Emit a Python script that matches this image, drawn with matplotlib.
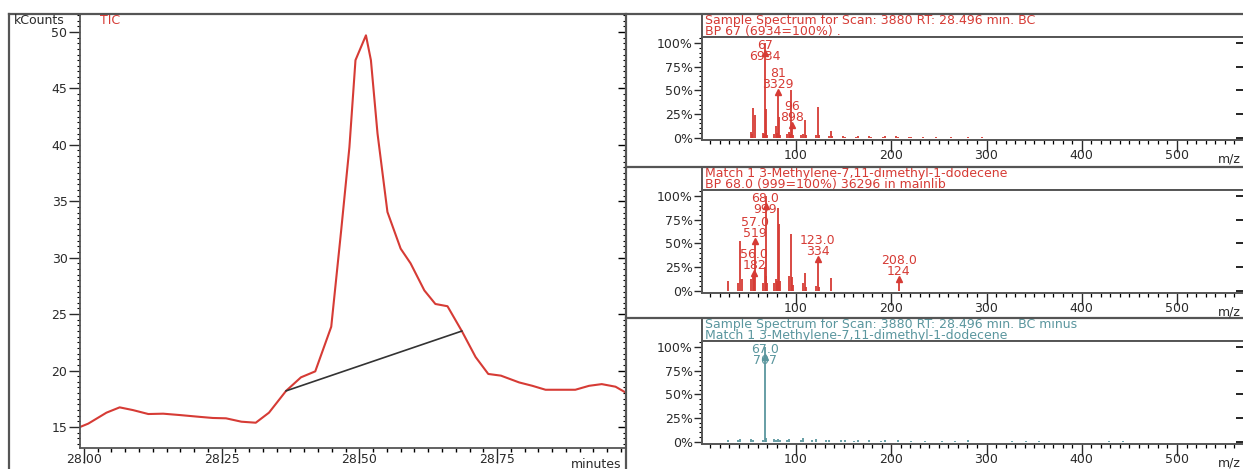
import matplotlib.pyplot as plt
from matplotlib.ticker import MultipleLocator, FixedLocator
from matplotlib.lines import Line2D

plt.rcParams['font.family'] = ['DejaVu Sans']

# TIC chromatogram (minutes, kCounts)
tic_time = [27.993, 28.008, 28.041, 28.065, 28.089, 28.117, 28.144, 28.174, 28.21, 28.234,
            28.258, 28.286, 28.312, 28.336, 28.367, 28.394, 28.42, 28.449, 28.467, 28.482,
            28.493, 28.512, 28.521, 28.533, 28.551, 28.575, 28.593, 28.618, 28.638,
            28.66, 28.686, 28.711, 28.734, 28.757, 28.79, 28.814, 28.838, 28.892, 28.917,
            28.94, 28.965, 28.986]
tic_kcounts = [15.0, 15.3, 16.27, 16.74, 16.5, 16.15, 16.18, 16.06, 15.9, 15.8,
               15.77, 15.47, 15.38, 16.27, 18.2, 19.4, 19.93, 23.88, 32.4, 39.8,
               47.5, 49.7, 47.5, 41.0, 34.05, 30.8, 29.5, 27.1, 25.9,
               25.7, 23.5, 21.2, 19.7, 19.55, 18.95, 18.65, 18.3, 18.3, 18.65,
               18.8, 18.57, 17.98]
base_time = [28.367, 28.686]
base_kcounts = [18.2, 23.5]

# sample spectrum
s1_mz = [53, 54, 55, 57, 65, 66, 67, 68, 69, 70, 77, 79, 80, 81, 82, 83, 91, 93, 94, 95,
         96, 97, 105, 107, 109, 110, 121, 123, 124, 135, 137, 138, 149, 151, 163, 165, 177, 179,
         191, 193, 205, 207, 219, 221, 233, 247, 263, 281, 295]
s1_pct = [6, 4, 31, 24, 5, 4, 100, 30, 8, 3, 4, 12, 5, 48, 22, 3, 4, 6, 4, 50,
          13, 3, 3, 4, 19, 3, 3, 32, 3, 2, 7, 2, 1.5, 1, 1, 1.5, 1.5, 1,
          1, 1.5, 1.5, 1, 1, 1.2, 1, 0.8, 1, 0.8, 0.7]
s1_lab_mz = [67, 81, 96]
s1_lab_name = ['67', '81', '96']
s1_lab_count = ['6934', '3329', '898']

# library match
s2_mz = [29, 39, 41, 43, 53, 55, 56, 57, 65, 67, 68, 69, 70, 77, 79, 80, 81, 82, 83, 93,
         95, 96, 97, 107, 109, 110, 121, 123, 124, 137, 208]
s2_pct = [10, 8, 53, 12, 12, 14, 18.2, 52, 8, 25, 100, 15, 8, 8, 12, 10, 87, 70, 10, 15,
          60, 14, 6, 8, 19, 4, 5, 33.4, 4, 13, 12.4]
s2_lab_mz = [56, 57, 68, 123, 208]
s2_lab_name = ['56.0', '57.0', '68.0', '123.0', '208.0']
s2_lab_count = ['182', '519', '999', '334', '124']

# residual (sample minus match)
s3_mz = [29, 39, 41, 53, 55, 65, 67, 69, 77, 79, 81, 83, 91, 93, 105, 107, 117, 121, 131, 135,
         147, 151, 161, 165, 177, 189, 193, 207, 221, 235, 253, 267, 281, 327, 341, 355, 429, 443]
s3_pct = [2, 2, 3, 3, 2, 2, 100, 4, 3, 2, 3, 2, 2, 3, 2, 4, 2, 3, 1.5, 2,
          1.5, 2, 1, 1.5, 1.5, 1, 2, 1.5, 1, 1, 1, 1, 1.5, 0.8, 0.8, 1, 0.7, 0.5]
s3_lab_mz = [67]
s3_lab_name = ['67.0']
s3_lab_count = ['707']

titles = [
    ['Sample Spectrum for Scan: 3880 RT: 28.496 min. BC', 'BP 67 (6934=100%) .'],
    ['Match 1 3-Methylene-7,11-dimethyl-1-dodecene', 'BP 68.0 (999=100%) 36296 in mainlib'],
    ['Sample Spectrum for Scan: 3880 RT: 28.496 min. BC minus', 'Match 1 3-Methylene-7,11-dimethyl-1-dodecene'],
]

RED = '#d63b35'
TEAL = '#5a969e'
GREY = '#555555'
TXT = '#2a2a2a'
FS = 9

W, H = 1243, 469


def px_box(x0, y0, x1, y1):
    return [x0 / W, 1 - y1 / H, (x1 - x0) / W, (y1 - y0) / H]


def fline(xs, ys):
    fig.add_artist(Line2D([x / W for x in xs], [1 - y / H for y in ys],
                          color=GREY, lw=1.6, transform=fig.transFigure))


fig = plt.figure(figsize=(W / 100, H / 100), dpi=100)

# ---- left: TIC ----
ax = fig.add_axes(px_box(80, 14, 626, 448))
ax.plot(tic_time, tic_kcounts, color=RED, lw=1.5)
ax.plot(base_time, base_kcounts, color='#333333', lw=1.2)
ax.set_xlim(27.993, 28.984)
ax.set_ylim(13.14, 51.59)
ax.xaxis.set_major_locator(FixedLocator([28.0, 28.25, 28.5, 28.75]))
ax.set_xticklabels(['28.00', '28.25', '28.50', '28.75'])
ax.xaxis.set_minor_locator(MultipleLocator(0.025))
ax.yaxis.set_major_locator(MultipleLocator(5))
ax.yaxis.set_minor_locator(MultipleLocator(0.5))
ax.tick_params(axis='x', which='major', direction='out', length=10.5, width=1, pad=-7,
               labelsize=FS, colors=TXT)
ax.tick_params(axis='x', which='minor', direction='out', length=3, width=1)
ax.tick_params(axis='y', which='major', direction='out', length=8, width=1, pad=1,
               labelsize=FS, colors=TXT)
ax.tick_params(axis='y', which='minor', direction='out', length=2.2, width=0.8)
for s in ax.spines.values():
    s.set_color(GREY)
    s.set_linewidth(1.3)

axr = ax.twinx()
axr.set_ylim(13.14, 51.59)
axr.yaxis.set_major_locator(MultipleLocator(5))
axr.yaxis.set_minor_locator(MultipleLocator(0.5))
axr.tick_params(axis='y', which='major', direction='in', length=6, width=1, labelright=False)
axr.tick_params(axis='y', which='minor', direction='in', length=2.2, width=0.8)
for s in axr.spines.values():
    s.set_visible(False)

fig.text(14 / W, 1 - 21 / H, 'kCounts', fontsize=FS, color=TXT, ha='left', va='center')
fig.text(100 / W, 1 - 21 / H, 'TIC', fontsize=FS, color=RED, ha='left', va='center')
fig.text(596 / W, 1 - 464 / H, 'minutes', fontsize=FS, color=TXT, ha='center', va='center')

# ---- right: spectra ----
spectra = [
    (s1_mz, s1_pct, s1_lab_mz, s1_lab_name, s1_lab_count, RED),
    (s2_mz, s2_pct, s2_lab_mz, s2_lab_name, s2_lab_count, RED),
    (s3_mz, s3_pct, s3_lab_mz, s3_lab_name, s3_lab_count, TEAL),
]
tops = [14, 167, 318]

for (mz, pct, lab_mz, lab_name, lab_count, c), top, ttl in zip(spectra, tops, titles):
    tax = fig.add_axes(px_box(702, top, 1243, top + 23))
    tax.set_xticks([])
    tax.set_yticks([])
    tax.spines['right'].set_visible(False)
    for s in tax.spines.values():
        s.set_color(GREY)
        s.set_linewidth(1.4)
    tax.text(0.006, 0.72, ttl[0], transform=tax.transAxes, fontsize=FS, color=c,
             ha='left', va='center')
    tax.text(0.006, 0.24, ttl[1], transform=tax.transAxes, fontsize=FS, color=c,
             ha='left', va='center')

    sax = fig.add_axes(px_box(702, top + 23, 1243, top + 126))
    sax.vlines(mz, 0, pct, color=c, lw=1.3)
    lookup = dict(zip(mz, pct))
    for m, nm, cnt in zip(lab_mz, lab_name, lab_count):
        p = lookup[m]
        anchor = min(p, 78)
        sax.plot(m, min(p, 90), marker='^', ms=4, color=c)
        sax.annotate(cnt, (m, anchor), xytext=(0, 5.5), textcoords='offset points',
                     ha='center', va='center', fontsize=FS, color=c)
        sax.annotate(nm, (m, anchor), xytext=(0, 13.5), textcoords='offset points',
                     ha='center', va='center', fontsize=FS, color=c)
    sax.set_xlim(1.3, 569.3)
    sax.set_ylim(-2.5, 106.5)
    sax.xaxis.set_major_locator(FixedLocator([100, 200, 300, 400, 500]))
    sax.xaxis.set_minor_locator(MultipleLocator(10))
    sax.yaxis.set_major_locator(FixedLocator([0, 25, 50, 75, 100]))
    sax.set_yticklabels(['0%', '25%', '50%', '75%', '100%'])
    sax.yaxis.set_minor_locator(MultipleLocator(5))
    sax.tick_params(axis='x', which='major', direction='out', length=8.5, width=1, pad=-2,
                    labelsize=FS, colors=TXT)
    sax.tick_params(axis='x', which='minor', direction='out', length=3, width=0.9)
    sax.tick_params(axis='y', which='major', direction='out', length=6, width=1, pad=0.5,
                    labelsize=FS, colors=TXT)
    sax.tick_params(axis='y', which='minor', direction='out', length=2, width=0.8)
    sax.spines['right'].set_visible(False)
    for s in sax.spines.values():
        s.set_color(GREY)
        s.set_linewidth(1.4)

    rax = sax.twinx()
    rax.set_ylim(-2.5, 106.5)
    rax.yaxis.set_major_locator(FixedLocator([0, 25, 50, 75, 100]))
    rax.tick_params(axis='y', which='major', direction='in', length=5, width=1.2, labelright=False)
    for s in rax.spines.values():
        s.set_visible(False)

    fig.text(1241 / W, 1 - (top + 145) / H, 'm/z', fontsize=FS, color=TXT, ha='right', va='center')

# frame and separators
fline([9, 1243], [14, 14])
fline([9, 9], [14, 469])
fline([626, 626], [14, 469])
fline([626, 1243], [167, 167])
fline([626, 1243], [318, 318])

fig.savefig('out.png', dpi=100)
